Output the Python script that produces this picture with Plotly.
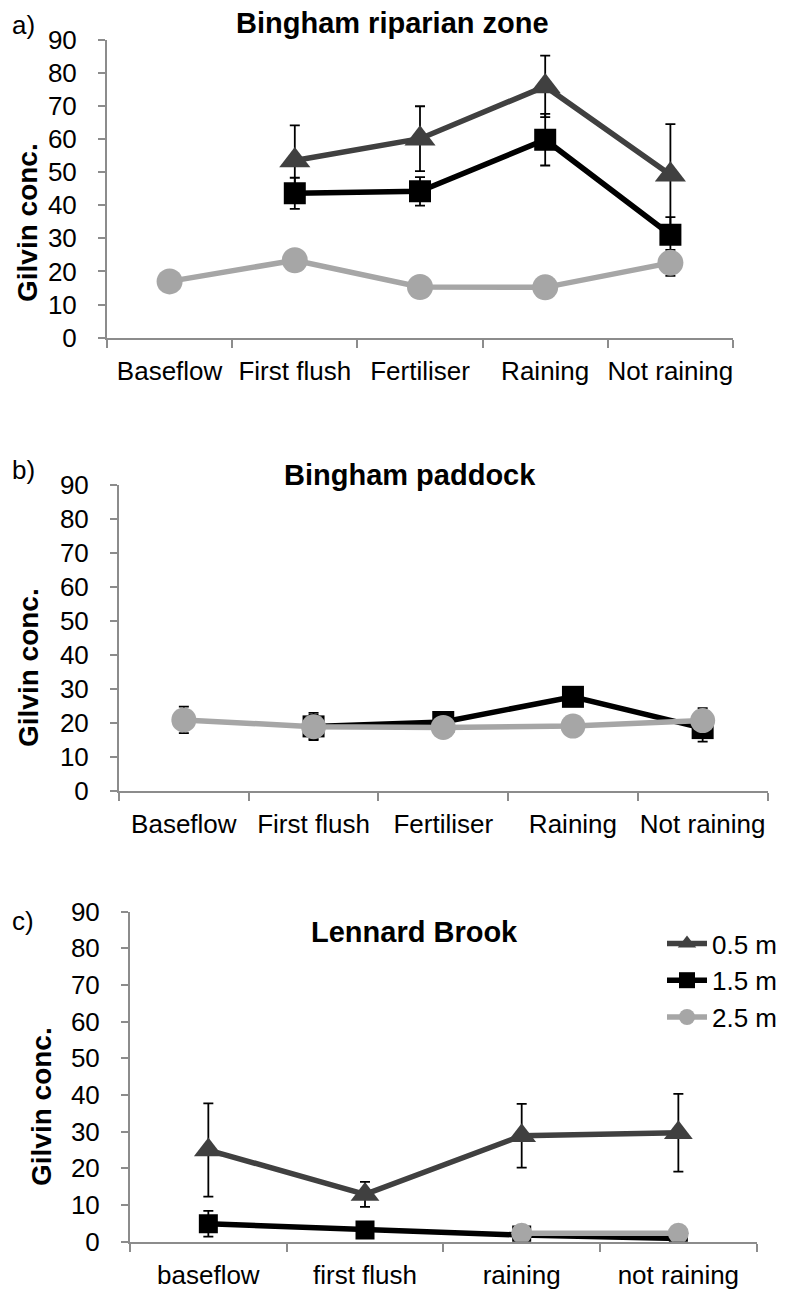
import plotly.graph_objects as go

# ---- data -------------------------------------------------------------
cats_riparian = ["Baseflow", "First flush", "Fertiliser", "Raining", "Not raining"]
cats_paddock = ["Baseflow", "First flush", "Fertiliser", "Raining", "Not raining"]
cats_lennard = ["baseflow", "first flush", "raining", "not raining"]

series_names = ["0.5 m", "1.5 m", "2.5 m"]

# a) Bingham riparian zone
rip_05 = [None, 53.5, 60.1, 75.9, 49.2]
rip_05_err = [None, 10.6, 9.8, 9.3, 15.3]
rip_15 = [None, 43.6, 44.2, 59.8, 31.1]
rip_15_err = [None, 4.7, 4.3, 7.8, 5.3]
rip_25 = [17.0, 23.4, 15.3, 15.2, 22.6]
rip_25_err = [1.5, 2.0, 1.5, 1.5, 3.9]

# b) Bingham paddock
pad_15 = [None, 19.0, 20.3, 27.7, 18.5]
pad_15_err = [None, 4.0, 2.0, 2.5, 4.0]
pad_25 = [20.9, 18.9, 18.7, 19.1, 20.7]
pad_25_err = [3.9, 3.5, 2.0, 2.0, 3.7]

# c) Lennard Brook
len_05 = [25.0, 12.9, 28.9, 29.7]
len_05_err = [12.7, 3.4, 8.7, 10.6]
len_15 = [4.9, 3.2, 1.8, 0.9]
len_15_err = [3.5, 1.0, 0.8, 0.8]
len_25 = [None, None, 2.3, 2.3]
len_25_err = [None, None, 0.8, 0.8]

y_ticks = [0, 10, 20, 30, 40, 50, 60, 70, 80, 90]

# ---- styling ----------------------------------------------------------
W, H = 788, 1292
FONT = "Liberation Sans, Arial, sans-serif"
COL = {"0.5 m": "#404040", "1.5 m": "#000000", "2.5 m": "#A6A6A6"}
SYM = {"0.5 m": "triangle-up", "1.5 m": "square", "2.5 m": "circle"}
AXIS_GREY = "#8C8C8C"


def py(px):
    return 1 - px / H


def pxx(px):
    return px / W


fig = go.Figure()


def add_series(x, y, err, name, xa, ya, msize, show_legend=False):
    fig.add_trace(go.Scatter(
        x=x, y=y, name=name, mode="lines+markers",
        xaxis=xa, yaxis=ya, showlegend=show_legend,
        line=dict(color=COL[name], width=5.5),
        marker=dict(symbol=SYM[name], size=msize, color=COL[name]),
        error_y=dict(type="data", array=err, visible=True,
                     color="#000000", thickness=1.8, width=5),
        connectgaps=False,
    ))


# panel a
add_series(cats_riparian, rip_05, rip_05_err, "0.5 m", "x", "y", 27)
add_series(cats_riparian, rip_15, rip_15_err, "1.5 m", "x", "y", 22)
add_series(cats_riparian, rip_25, rip_25_err, "2.5 m", "x", "y", 26)
# panel b
add_series(cats_paddock, pad_15, pad_15_err, "1.5 m", "x2", "y2", 22)
add_series(cats_paddock, pad_25, pad_25_err, "2.5 m", "x2", "y2", 25)
# panel c
add_series(cats_lennard, len_05, len_05_err, "0.5 m", "x3", "y3", 25, True)
add_series(cats_lennard, len_15, len_15_err, "1.5 m", "x3", "y3", 19, True)
add_series(cats_lennard, len_25, len_25_err, "2.5 m", "x3", "y3", 21, True)


def xaxis_cfg(domain, anchor, ncat):
    return dict(
        domain=domain, anchor=anchor, type="category",
        range=[-0.5, ncat - 0.5], tickson="boundaries",
        ticks="outside", ticklen=8, tickwidth=1.5, tickcolor=AXIS_GREY,
        showline=True, linecolor=AXIS_GREY, linewidth=2,
        showgrid=False, zeroline=False, tickangle=0,
        tickfont=dict(family=FONT, size=26, color="#000000"),
        ticklabelstandoff=9,
    )


def yaxis_cfg(domain, anchor):
    return dict(
        domain=domain, anchor=anchor, range=[0, 90],
        tickmode="array", tickvals=y_ticks,
        ticks="outside", ticklen=7, tickwidth=1.5, tickcolor=AXIS_GREY,
        showline=True, linecolor=AXIS_GREY, linewidth=2,
        showgrid=False, zeroline=False,
        tickfont=dict(family=FONT, size=26, color="#000000"),
        ticklabelstandoff=16,
    )


fig.update_layout(
    width=W, height=H,
    margin=dict(l=0, r=0, t=0, b=0, autoexpand=False),
    paper_bgcolor="white", plot_bgcolor="white",
    font=dict(family=FONT, color="#000000"),
    xaxis=xaxis_cfg([pxx(107), pxx(733)], "y", len(cats_riparian)),
    yaxis=yaxis_cfg([py(337.7), py(39.7)], "x"),
    xaxis2=xaxis_cfg([pxx(119), pxx(767.5)], "y2", len(cats_paddock)),
    yaxis2=yaxis_cfg([py(791), py(485)], "x2"),
    xaxis3=xaxis_cfg([pxx(130), pxx(756.7)], "y3", len(cats_lennard)),
    yaxis3=yaxis_cfg([py(1241.7), py(911.7)], "x3"),
    legend=dict(
        x=pxx(662), y=py(920), xanchor="left", yanchor="top",
        bgcolor="rgba(0,0,0,0)", font=dict(family=FONT, size=26),
        tracegroupgap=0, itemwidth=40,
    ),
)

# panel titles, letters and y-axis titles
titles = [("Bingham riparian zone", 392, 23), ("Bingham paddock", 410, 475),
          ("Lennard Brook", 414, 932)]
for text, cx, cy in titles:
    fig.add_annotation(text=f"<b>{text}</b>", x=pxx(cx), y=py(cy),
                       xref="paper", yref="paper", showarrow=False,
                       xanchor="center", yanchor="middle",
                       font=dict(family=FONT, size=29, color="#000000"))

letters = [("a)", 23, 25), ("b)", 23, 470), ("c)", 23, 921)]
for text, cx, cy in letters:
    fig.add_annotation(text=text, x=pxx(cx), y=py(cy),
                       xref="paper", yref="paper", showarrow=False,
                       xanchor="center", yanchor="middle",
                       font=dict(family=FONT, size=26, color="#000000"))

ytitles = [(27, 223), (28, 668), (41, 1107)]
for cx, cy in ytitles:
    fig.add_annotation(text="<b>Gilvin conc.</b>", x=pxx(cx), y=py(cy),
                       xref="paper", yref="paper", showarrow=False,
                       xanchor="center", yanchor="middle", textangle=-90,
                       font=dict(family=FONT, size=28, color="#000000"))

fig.write_html("out.html")
